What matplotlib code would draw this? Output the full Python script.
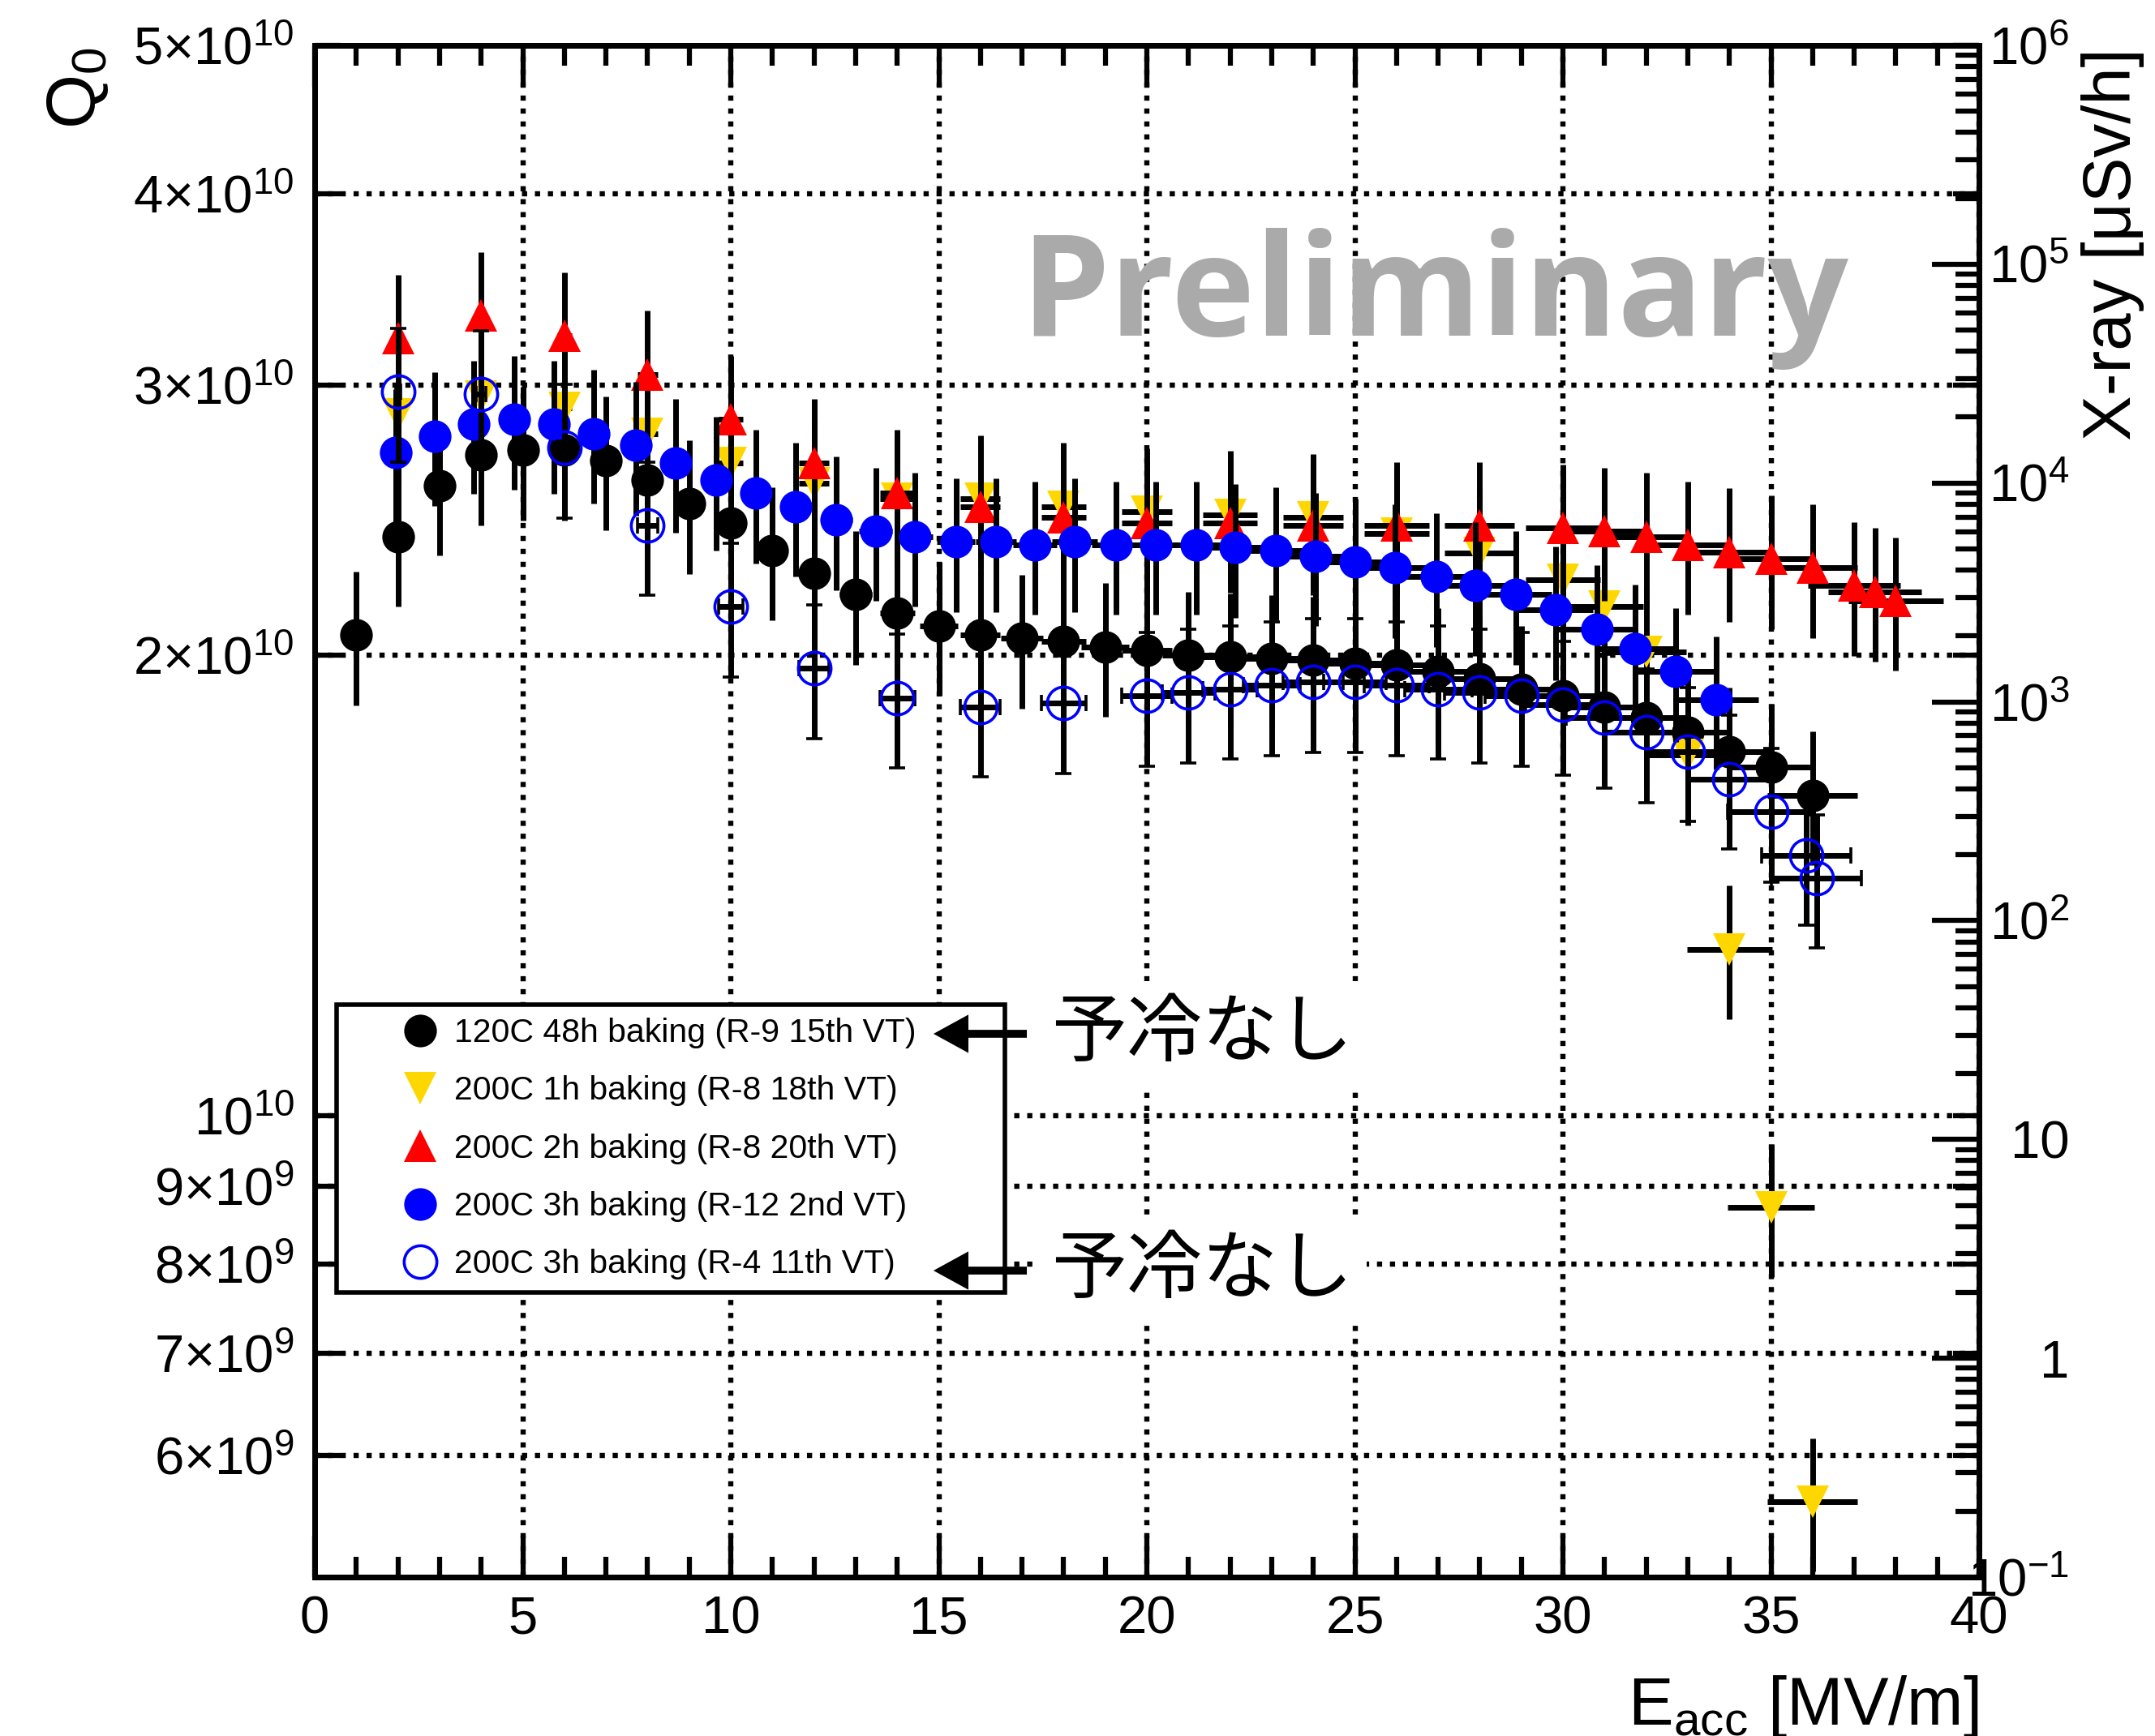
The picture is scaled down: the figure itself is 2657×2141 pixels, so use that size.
import numpy as np
import matplotlib
matplotlib.use('Agg')
import matplotlib.pyplot as plt
from matplotlib.ticker import FixedLocator, LogLocator, NullLocator, NullFormatter, MultipleLocator

plt.rcParams['font.family'] = ['Liberation Sans', 'DejaVu Sans']
plt.rcParams['mathtext.fontset'] = 'custom'
plt.rcParams['mathtext.rm'] = 'Liberation Sans'
plt.rcParams['mathtext.it'] = 'Liberation Sans:italic'
plt.rcParams['mathtext.bf'] = 'Liberation Sans:bold'
plt.rcParams['mathtext.sf'] = 'Liberation Sans'

# ---- data (Q0 in units of 1e10) ----
# 120C 48h baking (R-9 15th VT)
e_r9 = [1, 2, 3, 4, 5, 6, 7, 8, 9, 10, 11, 12, 13, 14, 15, 16, 17, 18,
        19, 20, 21, 22, 23, 24, 25, 26, 27, 28, 29, 30, 31, 32, 33, 34, 35, 36]
q_r9 = [2.06, 2.39, 2.58, 2.70, 2.72, 2.72, 2.68, 2.60, 2.51, 2.44, 2.34, 2.26,
        2.19, 2.13, 2.09, 2.06, 2.05, 2.04, 2.025, 2.015, 2.00, 1.995, 1.99,
        1.985, 1.975, 1.97, 1.95, 1.93, 1.90, 1.88, 1.85, 1.82, 1.78, 1.73,
        1.69, 1.62]

# 200C 1h baking (R-8 18th VT)
e_r8a = [2, 4, 6, 8, 10, 12, 14, 16, 18, 20, 22, 24, 26, 28, 30, 31, 32, 33,
         34, 35, 36]
q_r8a = [2.87, 2.95, 2.90, 2.79, 2.67, 2.59, 2.53, 2.53, 2.50, 2.48, 2.47,
         2.46, 2.40, 2.33, 2.24, 2.15, 2.01, 1.72, 1.285, 0.872, 0.56]

# 200C 2h baking (R-8 20th VT)
e_r8b = [2, 4, 6, 8, 10, 12, 14, 16, 18, 20, 22, 24, 26, 28, 30, 31, 32, 33,
         34, 35, 36, 37, 37.5, 38]
q_r8b = [3.22, 3.33, 3.23, 3.05, 2.85, 2.67, 2.55, 2.50, 2.46, 2.44, 2.44,
         2.43, 2.43, 2.43, 2.42, 2.41, 2.39, 2.36, 2.335, 2.31, 2.28, 2.22,
         2.20, 2.17]

# 200C 3h baking (R-12 2nd VT)
e_r12 = [1.94, 2.88, 3.83, 4.80, 5.76, 6.71, 7.71, 8.67, 9.65, 10.60, 11.55,
         12.54, 13.48, 14.43, 15.41, 16.37, 17.31, 18.26, 19.26, 20.21, 21.18,
         22.13, 23.09, 24.05, 25.01, 25.96, 26.95, 27.89, 28.87, 29.83, 30.81,
         31.73, 32.71, 33.68]
q_r12 = [2.71, 2.78, 2.83, 2.85, 2.83, 2.79, 2.74, 2.67, 2.60, 2.55, 2.50,
         2.45, 2.41, 2.39, 2.37, 2.37, 2.36, 2.37, 2.36, 2.36, 2.36, 2.35,
         2.34, 2.32, 2.30, 2.28, 2.25, 2.22, 2.19, 2.14, 2.08, 2.02, 1.95, 1.87]

# 200C 3h baking (R-4 11th VT)
e_r4 = [2, 4, 6, 8, 10, 12, 14, 16, 18, 20, 21, 22, 23, 24, 25, 26, 27, 28,
        29, 30, 31, 32, 33, 34, 35, 35.85, 36.1]
q_r4 = [2.97, 2.96, 2.73, 2.43, 2.15, 1.96, 1.875, 1.85, 1.86, 1.88, 1.89,
        1.90, 1.91, 1.92, 1.92, 1.91, 1.90, 1.89, 1.88, 1.855, 1.82, 1.78,
        1.73, 1.66, 1.58, 1.48, 1.43]

x_rel_err = 0.03
y_rel_err = 0.10

labels = ['120C 48h baking (R-9 15th VT)',
          '200C 1h baking (R-8 18th VT)',
          '200C 2h baking (R-8 20th VT)',
          '200C 3h baking (R-12 2nd VT)',
          '200C 3h baking (R-4 11th VT)']

q0_ticks = [6e9, 7e9, 8e9, 9e9, 1e10, 2e10, 3e10, 4e10, 5e10]
q0_tick_labels = [r'$6{\times}10^{9}$', r'$7{\times}10^{9}$', r'$8{\times}10^{9}$',
                  r'$9{\times}10^{9}$', r'$10^{10}$', r'$2{\times}10^{10}$',
                  r'$3{\times}10^{10}$', r'$4{\times}10^{10}$', r'$5{\times}10^{10}$']
xray_ticks = [1e-1, 1, 10, 1e2, 1e3, 1e4, 1e5, 1e6]
xray_tick_labels = [r'$10^{-1}$', '1', '10', r'$10^{2}$', r'$10^{3}$',
                    r'$10^{4}$', r'$10^{5}$', r'$10^{6}$']

# ---- figure ----
fig = plt.figure(figsize=(26.57, 21.41), dpi=100)
ax = fig.add_axes([0.14603, 0.09155, 0.77230, 0.88230])

series = [
    (e_r9, q_r9, 'o', 'k', 'k', 0),
    (e_r8a, q_r8a, 'v', '#FFD700', '#FFD700', 0),
    (e_r8b, q_r8b, '^', '#FF0000', '#FF0000', 0),
    (e_r12, q_r12, 'o', '#0000FF', '#0000FF', 0),
    (e_r4, q_r4, 'o', 'none', '#0000FF', 2.6),
]

handles = []
for i, (xs, qs, mk, fc, ec, mew) in enumerate(series):
    xs = np.array(xs, dtype=float)
    qs = np.array(qs) * 1e10
    cont = ax.errorbar(xs, qs, xerr=x_rel_err * xs, yerr=y_rel_err * qs,
                       fmt=mk, ms=29, mfc=fc, mec=ec, mew=mew,
                       ecolor='k', elinewidth=5, capsize=7, capthick=6,
                       zorder=2 + i)
    handles.append(cont[0])

ax.set_xlim(0, 40)
ax.set_yscale('log')
ax.set_ylim(5e9, 5e10)
ax.xaxis.set_major_locator(MultipleLocator(5))
ax.xaxis.set_minor_locator(MultipleLocator(1))
ax.yaxis.set_major_locator(FixedLocator(q0_ticks))
ax.set_yticks(q0_ticks, q0_tick_labels)
ax.yaxis.set_minor_locator(NullLocator())

ax.grid(True, which='major', color='k', linestyle=(0, (1, 1.5)), linewidth=4.6)
ax.set_axisbelow(True)

# right axis for X-ray
ax2 = ax.twinx()
ax2.set_yscale('log')
ax2.set_ylim(0.1, 1e6)
ax2.set_yticks(xray_ticks, xray_tick_labels, ha='right')
ax2.yaxis.set_minor_locator(LogLocator(base=10, subs=np.arange(2, 10), numticks=30))
ax2.yaxis.set_minor_formatter(NullFormatter())

ax.tick_params(axis='x', which='major', direction='in', length=37, width=4.5,
               top=True, bottom=True, labelsize=47, pad=16)
ax.tick_params(axis='x', which='minor', direction='in', length=18, width=4.5,
               top=True, bottom=True)
ax.tick_params(axis='y', which='major', direction='in', length=23, width=4.5,
               left=True, right=True, labelleft=True, labelright=False,
               labelsize=47, pad=18)
ax2.tick_params(axis='y', which='major', direction='in', length=42, width=4.5,
                labelsize=47, pad=80)
ax2.tick_params(axis='y', which='minor', direction='in', length=21, width=4.5)

for a in (ax, ax2):
    for sp in a.spines.values():
        sp.set_linewidth(5)

# axis titles
ax.text(-0.1423, 0.9989, r'$\mathrm{Q_{0}}$', transform=ax.transAxes,
        rotation=90, ha='center', va='top', fontsize=62)
ax.text(1.0804, 0.9984, 'X-ray [μSv/h]', transform=ax.transAxes,
        rotation=90, ha='center', va='top', fontsize=60)
ax.text(1.0, -0.0963, r'$\mathrm{E_{acc}}$ [MV/m]', transform=ax.transAxes,
        ha='right', va='baseline', fontsize=60)

# watermark
ax.text(0.424, 0.8105, 'Preliminary', transform=ax.transAxes, fontsize=126,
        fontweight='bold', color='#aaaaaa', family=['Open Sans', 'DejaVu Sans'],
        ha='left', va='baseline', zorder=1.5)

# legend
leg = ax.legend(handles, labels, loc='lower left',
                bbox_to_anchor=(0.01316, 0.1858, 0.4015, 0.189), mode='expand',
                borderaxespad=0, fontsize=29.5, frameon=True, fancybox=False,
                edgecolor='k', framealpha=1, labelspacing=0.81, borderpad=0.39,
                handlelength=4.24, handletextpad=-1.1, numpoints=1)
leg.get_frame().set_linewidth(4)
leg.set_zorder(10)

# arrows and notes
for yf in (0.3547, 0.2001):
    ax.annotate('', xy=(0.3718, yf), xytext=(0.4279, yf), xycoords='axes fraction',
                textcoords='axes fraction',
                arrowprops=dict(arrowstyle='simple,head_length=3.1,head_width=3.4,tail_width=0.7',
                                mutation_scale=10, color='k', lw=0,
                                shrinkA=0, shrinkB=0), zorder=11)
    ax.text(0.4425, yf, '予冷なし', transform=ax.transAxes, ha='left', va='center',
            fontsize=67, family=['Noto Sans CJK JP', 'DejaVu Sans'],
            bbox=dict(fc='white', ec='none', pad=12), zorder=9)

fig.savefig('out.png', dpi=100)
